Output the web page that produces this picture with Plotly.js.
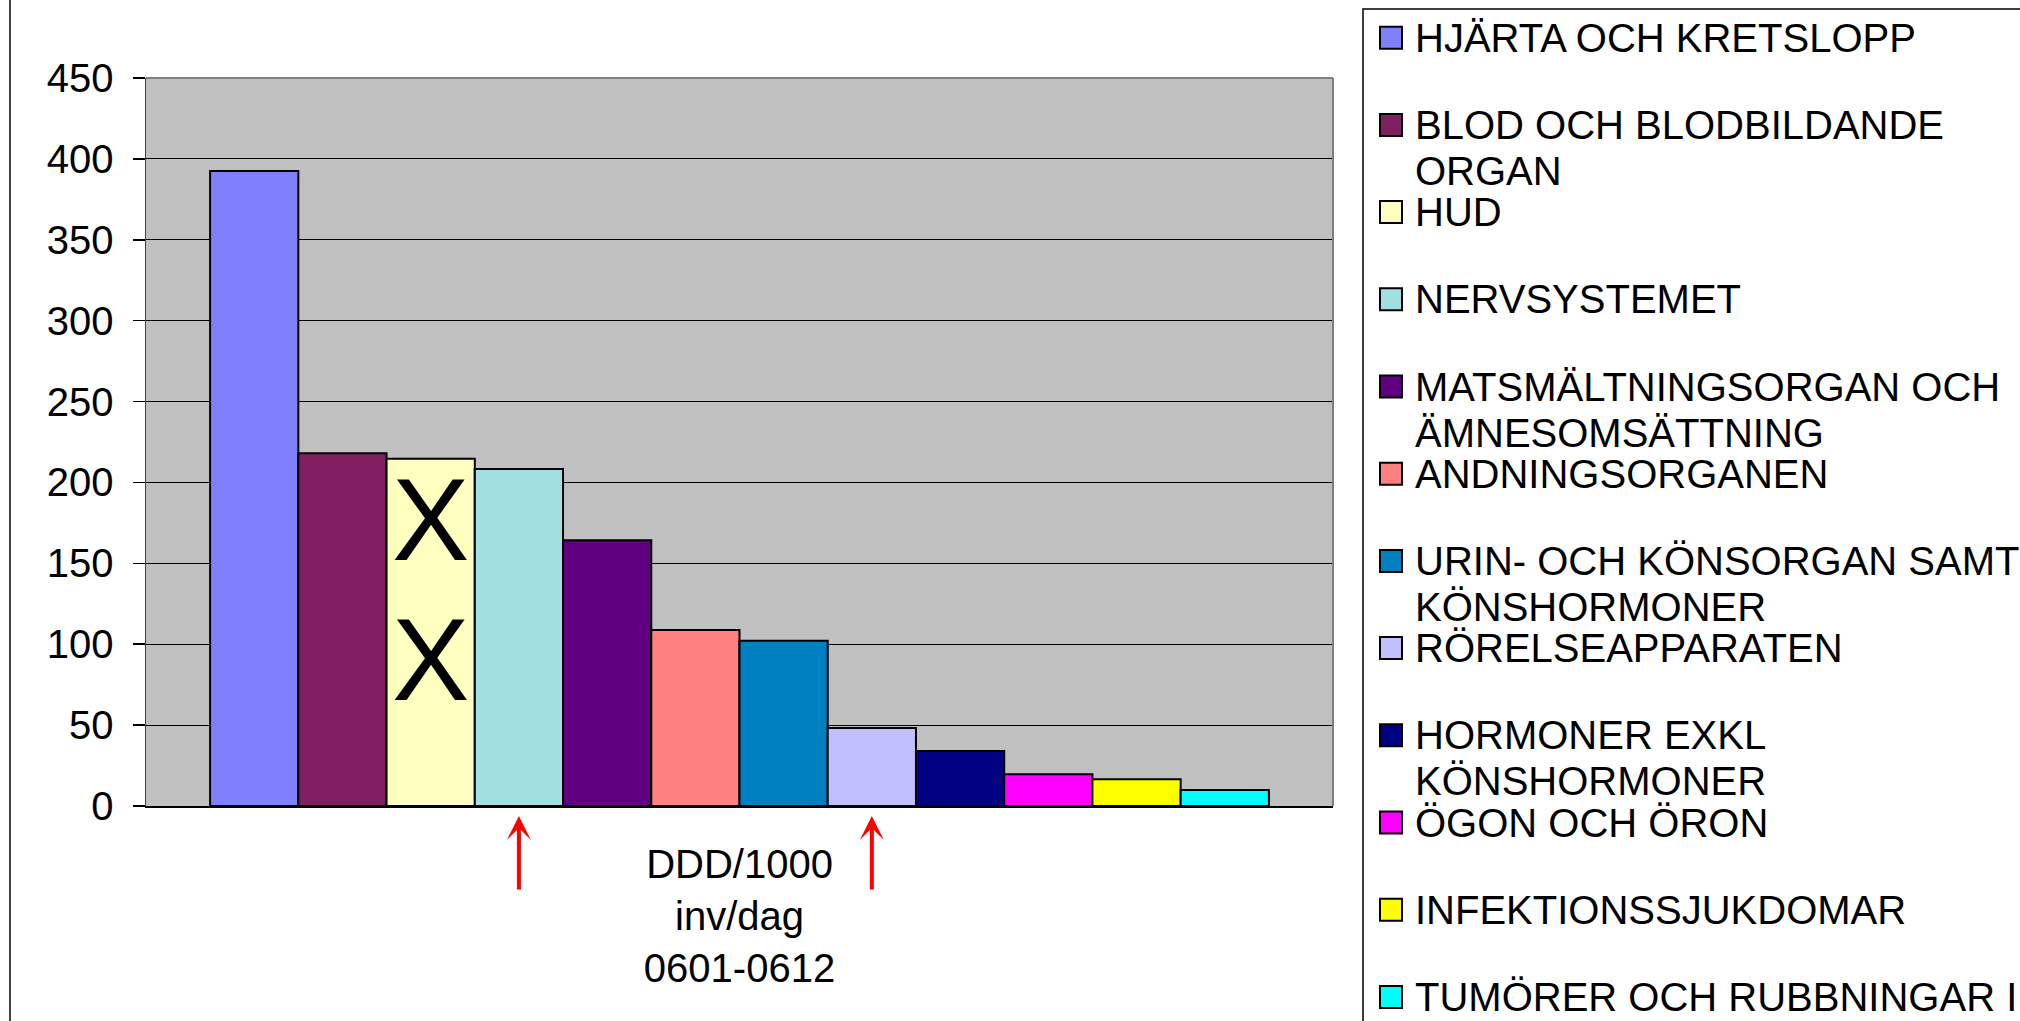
<!DOCTYPE html>
<html>
<head>
<meta charset="utf-8">
<script src="https://cdn.plot.ly/plotly-3.0.1.min.js"></script>
<style>html,body{margin:0;padding:0;background:#fff;}#chart{width:2020px;height:1021px;}</style>
</head>
<body>
<div id="chart"></div>
<script>
// ---- data ----
const categories = ['DDD/1000<br>inv/dag<br>0601-0612'];
const seriesNames = [
  'HJÄRTA OCH KRETSLOPP',
  'BLOD OCH BLODBILDANDE<br>ORGAN',
  'HUD',
  'NERVSYSTEMET',
  'MATSMÄLTNINGSORGAN OCH<br>ÄMNESOMSÄTTNING',
  'ANDNINGSORGANEN',
  'URIN- OCH KÖNSORGAN SAMT<br>KÖNSHORMONER',
  'RÖRELSEAPPARATEN',
  'HORMONER EXKL<br>KÖNSHORMONER',
  'ÖGON OCH ÖRON',
  'INFEKTIONSSJUKDOMAR',
  'TUMÖRER OCH RUBBNINGAR I'
];
const seriesValues = [392.5, 218, 214.7, 208.3, 164.2, 108.8, 102.2, 48.2, 34, 19.6, 16.6, 9.9];
const seriesColors = ['#8080FF','#802060','#FFFFC0','#A0E0E0','#600080','#FF8080','#0080C0','#C0C0FF','#000080','#FF00FF','#FFFF00','#00FFFF'];
const yTickVals = [0, 50, 100, 150, 200, 250, 300, 350, 400, 450];
const crossedSeries = 2;          // index of the bar marked with X
const crossMarkYs = [177, 90.5];  // y values where the X marks sit
const arrowSeries = [3, 7];       // bars pointed at by red arrows

// ---- layout geometry ----
const W = 2020, H = 1021;
const L = 146, R = 1333, T = 78, B = 806;
const px = x => (x - L) / (R - L);
const py = y => (B - y) / (B - T);
const FONT = 'Liberation Sans, Arial, Helvetica, sans-serif';
const bargap = 0.108;
const N = seriesValues.length;
const barCenter = i => -(1 - bargap) / 2 + (i + 0.5) * (1 - bargap) / N;

const traces = seriesNames.map((name, i) => ({
  type: 'bar',
  name: name.replace('<br>', ' '),
  x: categories,
  y: [seriesValues[i]],
  marker: {color: seriesColors[i], line: {color: '#000000', width: 2}},
  showlegend: false,
  hoverinfo: 'y'
}));

const shapes = [];
const annotations = [];

// plot-area top & right border (grey)
shapes.push({type: 'line', xref: 'paper', yref: 'paper', x0: 0, x1: 1, y0: 1, y1: 1, line: {color: '#808080', width: 2}});
shapes.push({type: 'line', xref: 'paper', yref: 'paper', x0: 1, x1: 1, y0: 0, y1: 1, line: {color: '#808080', width: 2}});
// outer chart border (left edge)
shapes.push({type: 'line', xref: 'paper', yref: 'paper', x0: px(10), x1: px(10), y0: py(-10), y1: py(H + 10), line: {color: '#000000', width: 1.5}});
// legend box
shapes.push({type: 'rect', xref: 'paper', yref: 'paper', x0: px(1363), x1: px(W + 40), y0: py(9), y1: py(H + 40), line: {color: '#000000', width: 1.5}, fillcolor: 'rgba(0,0,0,0)'});

// legend entries
const legTop = 37.7, legStep = 87.2, legLine = 46;
seriesNames.forEach((name, i) => {
  const yc = legTop + i * legStep;
  shapes.push({type: 'rect', xref: 'paper', yref: 'paper',
    x0: px(1380), x1: px(1402), y0: py(yc - 11), y1: py(yc + 11),
    fillcolor: seriesColors[i], line: {color: '#000000', width: 2}});
  name.split('<br>').forEach((line, j) => {
    annotations.push({xref: 'paper', yref: 'paper', x: px(1413), y: py(yc + j * legLine),
      xanchor: 'left', yanchor: 'middle', showarrow: false, text: line,
      font: {family: FONT, size: 40, color: '#000000'}});
  });
});

// X marks on the crossed bar
crossMarkYs.forEach(v => {
  annotations.push({xref: 'x', yref: 'y', x: barCenter(crossedSeries), y: v,
    xanchor: 'center', yanchor: 'middle', showarrow: false, text: 'X',
    font: {family: FONT, size: 116, color: '#000000'}});
});

// red arrows under chosen bars
arrowSeries.forEach(i => {
  annotations.push({xref: 'x', yref: 'paper', x: barCenter(i), y: py(816),
    showarrow: true, text: '', ax: 0, ay: 75, axref: 'pixel', ayref: 'pixel',
    arrowhead: 3, arrowsize: 1, arrowwidth: 4, arrowcolor: '#FF0000', standoff: 0});
});

const layout = {
  width: W, height: H,
  margin: {l: L, r: W - R, t: T, b: H - B, pad: 0},
  paper_bgcolor: '#FFFFFF',
  plot_bgcolor: '#C0C0C0',
  barmode: 'group',
  bargap: bargap,
  bargroupgap: 0,
  showlegend: false,
  font: {family: FONT, color: '#000000'},
  xaxis: {
    type: 'category',
    showline: true, linecolor: '#000000', linewidth: 1.5,
    ticks: '', showgrid: false, zeroline: false,
    tickfont: {family: FONT, size: 40, color: '#000000'},
    ticklabelstandoff: 22,
    fixedrange: true
  },
  yaxis: {
    range: [0, 450], tickvals: yTickVals, ticktext: yTickVals.map(String),
    showline: true, linecolor: '#404040', linewidth: 1.5,
    ticks: 'outside', ticklen: 12, tickwidth: 1.5, tickcolor: '#000000',
    showgrid: true, gridcolor: '#000000', gridwidth: 1,
    zeroline: false,
    tickfont: {family: FONT, size: 40, color: '#000000'},
    ticklabelstandoff: 11,
    fixedrange: true
  },
  shapes: shapes,
  annotations: annotations
};

Plotly.newPlot('chart', traces, layout, {displayModeBar: false, staticPlot: true});
</script>
</body>
</html>
